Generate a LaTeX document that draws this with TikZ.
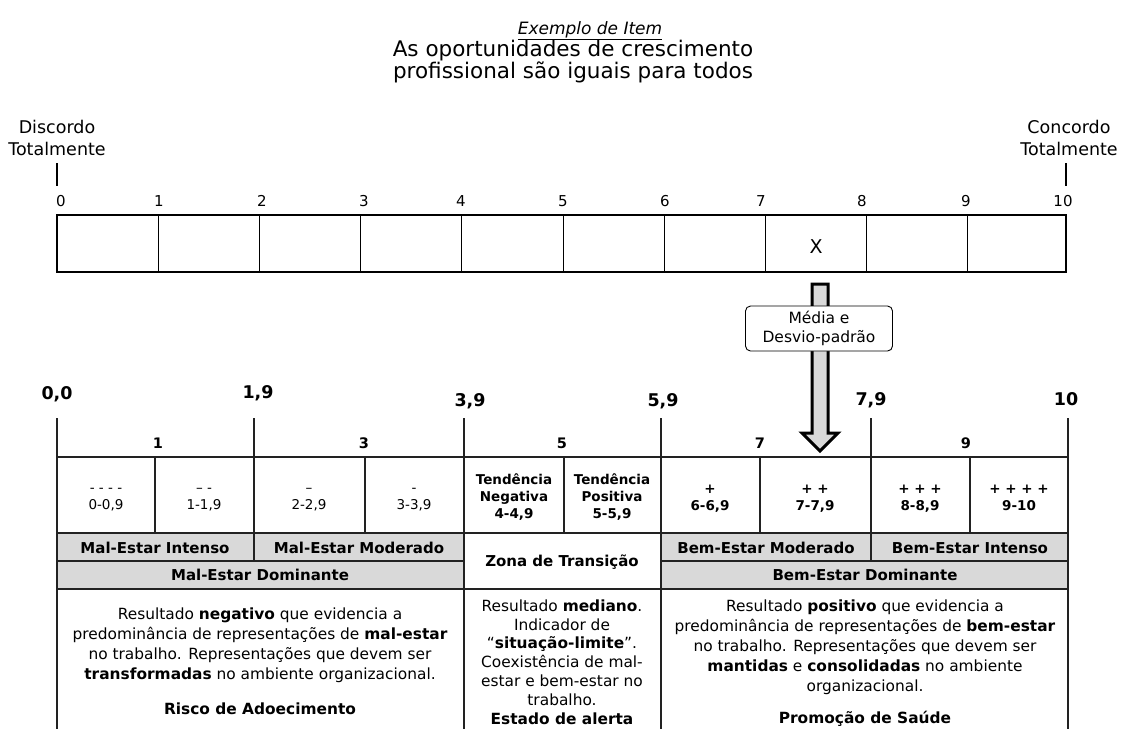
\documentclass[tikz,border=0pt]{standalone}
\usepackage{fontspec}
\setmainfont{DejaVu Sans}
\definecolor{cellgray}{HTML}{D9D9D9}
\definecolor{linegray}{HTML}{222222}
\begin{document}
\begin{tikzpicture}[x=1pt,y=-1pt,
  title/.style={font=\fontsize{21.5}{22}\selectfont, inner sep=0pt, anchor=base},
  endlabel/.style={font=\fontsize{17.5}{22}\selectfont, align=center, inner sep=0pt, anchor=base},
  scalenum/.style={font=\fontsize{15}{16}\selectfont, inner sep=0pt, anchor=base},
  bnum/.style={font=\bfseries\fontsize{17.5}{17}\selectfont, inner sep=0pt, anchor=base},
  hnum/.style={font=\bfseries\fontsize{14.5}{14}\selectfont, inner sep=0pt, anchor=base},
  small/.style={font=\fontsize{13.5}{17}\selectfont, align=center, inner sep=0pt, anchor=base},
  smallb/.style={font=\bfseries\fontsize{13.5}{17}\selectfont, align=center, inner sep=0pt, anchor=base},
  band/.style={font=\bfseries\fontsize{15}{15}\selectfont, inner sep=0pt},
  body/.style={font=\fontsize{15.4}{20}\selectfont, align=center, inner sep=0pt, anchor=base},
  bodym/.style={font=\fontsize{15.4}{18.8}\selectfont, align=center, inner sep=0pt, anchor=base},
  tline/.style={draw=linegray, line width=1.1pt},
  callout/.style={draw=black, fill=white, rounded corners=5pt, line width=0.9pt,
    font=\fontsize{15.5}{19}\selectfont, align=center, minimum width=147pt, minimum height=45pt, inner sep=0pt}]
\useasboundingbox (0,0) rectangle (1121,729);

% Title
\node[title, font=\itshape\fontsize{17}{22}\selectfont] (ex) at (590,34) {\underline{Exemplo de Item}};
\node[title] (q1) at (573,56) {As oportunidades de crescimento};
\node[title] (q2) at (573,78) {profissional são iguais para todos};

% end labels
\node[endlabel] (disc) at (57,155) {Discordo\\Totalmente};
\node[endlabel] (conc) at (1069,155) {Concordo\\Totalmente};
\coordinate (dt) at (57,163); \coordinate (db) at (57,186);
\coordinate (ct) at (1066,163); \coordinate (cb) at (1066,186);
\draw[line width=1.1pt] (dt) -- (db);
\draw[line width=1.1pt] (ct) -- (cb);

% scale
\foreach \i/\xx in {0/61,1/159,2/262,3/364,4/461,5/563,6/665,7/761,8/862,9/966,10/1063}{
  \node[scalenum] (s\i) at (\xx,206) {\i};
}
\draw[line width=1.3pt] (57,215) rectangle (1066,272);
\foreach \xx in {158,259,360,461,563,664,765,866,967}{
  \draw[line width=0.9pt] (\xx,215) -- (\xx,272);
}
\node[font=\fontsize{19}{20}\selectfont, inner sep=0pt] (X) at (816,247) {X};

% arrow
\draw[fill=cellgray, line width=3pt, line join=miter]
  (812,284) -- (828,284) -- (828,433) -- (838,433) -- (820,451) -- (802,433) -- (812,433) -- cycle;
\node[callout] (md) at (819,328.5) {Média e\\Desvio-padrão};

% big numbers
\node[bnum] (n00) at (57,399) {0,0};
\node[bnum] (n19) at (258,398) {1,9};
\node[bnum] (n39) at (470,406) {3,9};
\node[bnum] (n59) at (663,406) {5,9};
\node[bnum] (n79) at (871,405) {7,9};
\node[bnum] (n10) at (1066,405) {10};

% table fills
\fill[cellgray] (57,533) rectangle (464,589);
\fill[cellgray] (661,533) rectangle (1068,589);

% table lines
\foreach \xx in {57,254,464,661,871,1068}{
  \draw[tline] (\xx,418) -- (\xx,561);
}
\foreach \xx in {155,365,564,760,970}{
  \draw[tline] (\xx,457) -- (\xx,533);
}
\foreach \xx in {57,464,661,1068}{
  \draw[tline] (\xx,561) -- (\xx,729);
}
\draw[tline] (57,457) -- (1068,457);
\draw[tline] (57,533) -- (1068,533);
\draw[tline] (57,561) -- (464,561);
\draw[tline] (661,561) -- (1068,561);
\draw[tline] (57,589) -- (1068,589);

% header
\node[hnum] (h1) at (158,448) {1};
\node[hnum] (h3) at (364,448) {3};
\node[hnum] (h5) at (562,448) {5};
\node[hnum] (h7) at (760,448) {7};
\node[hnum] (h9) at (966,448) {9};

% cells
\node[small] (c1) at (106,509) {- - - -\\0-0,9};
\node[small] (c2) at (204,509) {-- -\\1-1,9};
\node[small] (c3) at (309,509) {--\\2-2,9};
\node[small] (c4) at (414,509) {-\\3-3,9};
\node[smallb] (c5) at (514,518) {Tendência\\Negativa\\4-4,9};
\node[smallb] (c6) at (612,518) {Tendência\\Positiva\\5-5,9};
\node[smallb] (c7) at (710,510) {+\\6-6,9};
\node[smallb] (c8) at (815,510) {+ +\\7-7,9};
\node[smallb] (c9) at (920,510) {+ + +\\8-8,9};
\node[smallb] (c10) at (1019,510) {+ + + +\\9-10};

% bands
\node[band] (mi) at (155,548) {Mal-Estar Intenso};
\node[band] (mm) at (359,548) {Mal-Estar Moderado};
\node[band] (md2) at (260,575) {Mal-Estar Dominante};
\node[band] (zt) at (562,562) {Zona de Transição};
\node[band] (bm) at (766,548) {Bem-Estar Moderado};
\node[band] (bi) at (970,548) {Bem-Estar Intenso};
\node[band] (bd) at (865,575) {Bem-Estar Dominante};

% bodies
\node[body] (tl) at (260,714) {Resultado \textbf{negativo} que evidencia a\\predominância de representações de \textbf{mal-estar}\\no trabalho. Representações que devem ser\\\textbf{transformadas} no ambiente organizacional.\\[15pt]\textbf{Risco de Adoecimento}};
\node[bodym] (tm) at (562,724) {Resultado \textbf{mediano}.\\Indicador de\\“\textbf{situação-limite}”.\\Coexistência de mal-\\estar e bem-estar no\\trabalho.\\\textbf{Estado de alerta}};
\node[body] (tr) at (865,723) {Resultado \textbf{positivo} que evidencia a\\predominância de representações de \textbf{bem-estar}\\no trabalho. Representações que devem ser\\\textbf{mantidas} e \textbf{consolidadas} no ambiente\\organizacional.\\[12pt]\textbf{Promoção de Saúde}};
\end{tikzpicture}
\end{document}
